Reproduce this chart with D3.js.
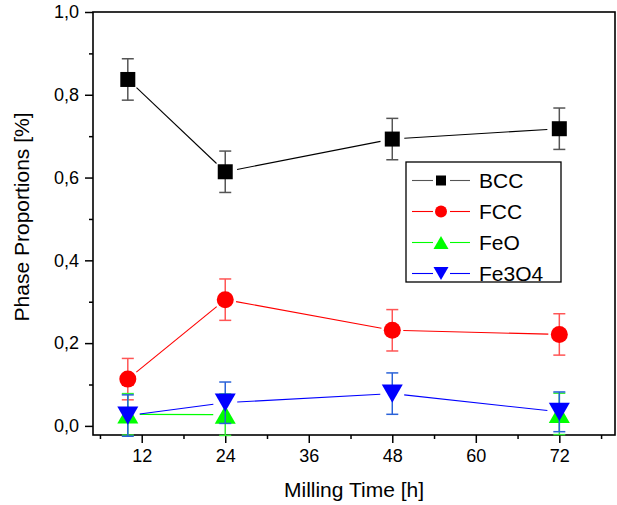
<!DOCTYPE html>
<html>
<head>
<meta charset="utf-8">
<script src="https://cdn.jsdelivr.net/npm/d3@7"></script>
<style>
  body { margin: 0; background: #fff; }
  svg text { font-family: "Liberation Sans", Arial, sans-serif; fill: #000; }
</style>
</head>
<body>
<div id="chart"></div>
<script>
// milling times (h)
const times = [10, 24, 48, 72];
// phase proportions (null = no point)
const bcc = [0.837, 0.614, 0.693, 0.718];
const fcc = [0.113, 0.305, 0.231, 0.221];
const feo = [0.028, 0.027, null, 0.029];
const fe3o4 = [0.025, 0.056, 0.078, 0.034];
// error bar half widths
const bccErr = [0.05, 0.05, 0.05, 0.05];
const fccErr = [0.05, 0.05, 0.05, 0.05];
const feoErr = [0.05, 0.05, null, 0.05];
const fe3o4Err = [0.05, 0.05, 0.05, 0.048];

const seriesNames = ['BCC', 'FCC', 'FeO', 'Fe3O4'];
const xTicks = [12, 24, 36, 48, 60, 72];
const yTicks = [0, 0.2, 0.4, 0.6, 0.8, 1.0];

const width = 617;
const height = 505;
const margin = { top: 12, right: 2, bottom: 70, left: 93 };

const svg = d3.select('#chart')
  .append('svg')
  .attr('width', width)
  .attr('height', height);

const x = d3.scaleLinear()
  .domain([5, 80])
  .range([margin.left, width - margin.right]);

const y = d3.scaleLinear()
  .domain([-0.022, 1.0])
  .range([height - margin.bottom, margin.top]);

// marker shapes, centred on their bounding box like Origin does
function markerPath(shape, s) {
  const h = s / 2;
  if (shape === 'square') return `M${-h},${-h}H${h}V${h}H${-h}Z`;
  if (shape === 'circle') return `M${-h},0A${h},${h} 0 1,0 ${h},0A${h},${h} 0 1,0 ${-h},0Z`;
  const th = s * 0.87 / 2;
  if (shape === 'up') return `M0,${-th}L${h},${th}L${-h},${th}Z`;
  return `M0,${th}L${h},${-th}L${-h},${-th}Z`;
}

const series = [
  { name: seriesNames[0], values: bcc, err: bccErr, color: '#000', errColor: '#555', shape: 'square', size: 15, gap: 12 },
  { name: seriesNames[1], values: fcc, err: fccErr, color: '#ff0000', errColor: '#ff5555', shape: 'circle', size: 17, gap: 11 },
  { name: seriesNames[2], values: feo, err: feoErr, color: '#00ff00', errColor: '#33ee33', shape: 'up', size: 21, gap: 12 },
  { name: seriesNames[3], values: fe3o4, err: fe3o4Err, color: '#0000ff', errColor: '#2a62d8', shape: 'down', size: 21, gap: 12 }
];

// axes
const xAxis = svg.append('g')
  .attr('transform', `translate(0,${height - margin.bottom})`)
  .call(d3.axisBottom(x).tickValues(xTicks).tickSize(8).tickPadding(6));
xAxis.selectAll('text').attr('font-size', 18);

const xMinor = svg.append('g')
  .attr('transform', `translate(0,${height - margin.bottom})`)
  .call(d3.axisBottom(x).tickValues(d3.range(6, 80, 12)).tickSize(4).tickFormat(''));

const yAxis = svg.append('g')
  .attr('transform', `translate(${margin.left},0)`)
  .call(d3.axisLeft(y).tickValues(yTicks).tickSize(8).tickPadding(6)
    .tickFormat(d => d3.format('.1f')(d).replace('.', ',')));
yAxis.selectAll('text').attr('font-size', 18);

const yMinor = svg.append('g')
  .attr('transform', `translate(${margin.left},0)`)
  .call(d3.axisLeft(y).tickValues(d3.range(0.1, 1, 0.2)).tickSize(4).tickFormat(''));

[xAxis, xMinor, yAxis, yMinor].forEach(g => {
  g.selectAll('.domain').remove();
  g.selectAll('line').attr('stroke', '#000').attr('stroke-width', 1.5);
});

// frame
svg.append('rect')
  .attr('x', margin.left)
  .attr('y', margin.top)
  .attr('width', width - margin.right - margin.left)
  .attr('height', height - margin.bottom - margin.top)
  .attr('fill', 'none')
  .attr('stroke', '#000')
  .attr('stroke-width', 1.6);

// axis titles
svg.append('text')
  .attr('x', (x(5) + x(80)) / 2)
  .attr('y', 497)
  .attr('text-anchor', 'middle')
  .attr('font-size', 21)
  .text('Milling Time [h]');

svg.append('text')
  .attr('transform', `translate(29,${(y(0) + y(1)) / 2 - 2}) rotate(-90)`)
  .attr('text-anchor', 'middle')
  .attr('font-size', 21)
  .text('Phase Proportions [%]');

// lines with a small gap around each marker
function drawGapLine(g, pts, gap, color) {
  for (let i = 0; i < pts.length - 1; i++) {
    const a = pts[i], b = pts[i + 1];
    if (a == null || b == null) continue;
    const dx = b[0] - a[0], dy = b[1] - a[1];
    const len = Math.hypot(dx, dy);
    if (len <= 2 * gap) continue;
    const ux = dx / len, uy = dy / len;
    g.append('line')
      .attr('x1', a[0] + ux * gap).attr('y1', a[1] + uy * gap)
      .attr('x2', b[0] - ux * gap).attr('y2', b[1] - uy * gap)
      .attr('stroke', color)
      .attr('stroke-width', 1.1);
  }
}

series.forEach(s => {
  const g = svg.append('g');
  const pts = s.values.map((v, i) => v == null ? null : [x(times[i]), y(v)]);
  drawGapLine(g, pts, s.gap, s.color);

  const data = s.values.map((v, i) => ({ t: times[i], v: v, e: s.err[i] })).filter(d => d.v != null);

  // error bars
  const eb = g.append('g').attr('stroke', s.errColor).attr('stroke-width', 1.5);
  eb.selectAll('.stem').data(data).join('line')
    .attr('x1', d => x(d.t)).attr('x2', d => x(d.t))
    .attr('y1', d => y(d.v - d.e)).attr('y2', d => y(d.v + d.e));
  eb.selectAll('.capTop').data(data).join('line')
    .attr('x1', d => x(d.t) - 6).attr('x2', d => x(d.t) + 6)
    .attr('y1', d => y(d.v + d.e)).attr('y2', d => y(d.v + d.e));
  eb.selectAll('.capBot').data(data).join('line')
    .attr('x1', d => x(d.t) - 6).attr('x2', d => x(d.t) + 6)
    .attr('y1', d => y(d.v - d.e)).attr('y2', d => y(d.v - d.e));

  // markers
  g.selectAll('path.marker').data(data).join('path')
    .attr('class', 'marker')
    .attr('transform', d => `translate(${x(d.t)},${y(d.v)})`)
    .attr('d', markerPath(s.shape, s.size))
    .attr('fill', s.color);
});

// legend
const legend = svg.append('g');
legend.append('rect')
  .attr('x', 406).attr('y', 162)
  .attr('width', 155).attr('height', 120)
  .attr('fill', '#fff')
  .attr('stroke', '#000')
  .attr('stroke-width', 1.3);

const legendSizes = [10, 12, 15, 15];
series.forEach((s, i) => {
  const cy = 180.5 + i * 31;
  const row = legend.append('g');
  row.append('line').attr('x1', 412).attr('x2', 433).attr('y1', cy).attr('y2', cy)
    .attr('stroke', s.color === '#000' ? '#555' : s.color).attr('stroke-width', 1.1);
  row.append('line').attr('x1', 450).attr('x2', 470).attr('y1', cy).attr('y2', cy)
    .attr('stroke', s.color === '#000' ? '#555' : s.color).attr('stroke-width', 1.1);
  row.append('path')
    .attr('transform', `translate(441,${cy})`)
    .attr('d', markerPath(s.shape, legendSizes[i]))
    .attr('fill', s.color);
  row.append('text')
    .attr('x', 479).attr('y', cy)
    .attr('dy', '0.36em')
    .attr('font-size', 21)
    .text(s.name);
});
</script>
</body>
</html>
